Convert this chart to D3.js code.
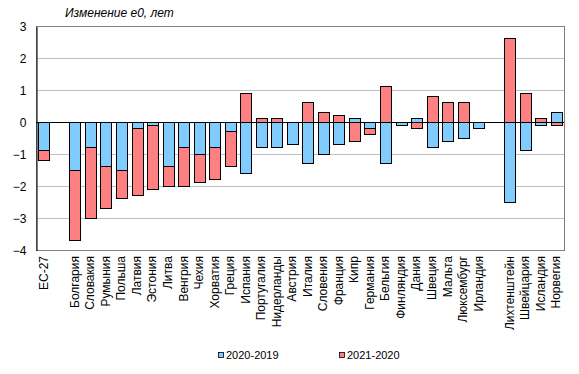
<!DOCTYPE html>
<html>
<head>
<meta charset="utf-8">
<script src="https://cdn.jsdelivr.net/npm/d3@7"></script>
<style>
  body { margin: 0; background: #fff; }
  svg { display: block; font-family: "Liberation Sans", Arial, sans-serif; }
</style>
</head>
<body>
<svg id="chart" width="579" height="374"></svg>
<script>
// categories ("" = empty gap slot)
const countries = ["ЕС-27", "", "Болгария", "Словакия", "Румыния", "Польша", "Латвия", "Эстония",
  "Литва", "Венгрия", "Чехия", "Хорватия", "Греция", "Испания", "Португалия", "Нидерланды",
  "Австрия", "Италия", "Словения", "Франция", "Кипр", "Германия", "Бельгия", "Финляндия",
  "Дания", "Швеция", "Мальта", "Люксембург", "Ирландия", "", "Лихтенштейн", "Швейцария",
  "Исландия", "Норвегия"];

// change 2020 vs 2019
const change2020 = [-0.88, 0, -1.5, -0.77, -1.37, -1.5, -0.19, -0.09,
  -1.37, -0.77, -1.0, -0.77, -0.28, -1.59, -0.77, -0.77,
  -0.69, -1.28, -1.0, -0.69, 0.13, -0.19, -1.28, -0.09,
  0.13, -0.78, -0.59, -0.5, -0.19, 0, -2.5, -0.87,
  -0.09, 0.31];

// change 2021 vs 2020
const change2021 = [-0.31, 0, -2.18, -2.23, -1.31, -0.87, -2.09, -2.0,
  -0.63, -1.23, -0.87, -1.01, -1.08, 0.91, 0.13, 0.13,
  0, 0.63, 0.31, 0.22, -0.59, -0.19, 1.12, 0,
  -0.19, 0.81, 0.63, 0.63, 0, 0, 2.63, 0.91,
  0.13, -0.09];

const seriesNames = ["2020-2019", "2021-2020"];
const seriesColors = ["#80ccff", "#ff8080"];
const yTicks = [-4, -3, -2, -1, 0, 1, 2, 3];

const svg = d3.select("#chart");
const margin = { left: 36, right: 15, top: 26, bottom: 124 };
const W = 579, H = 374;
const x0 = margin.left, x1 = W - margin.right;
const y0 = margin.top, y1 = H - margin.bottom;

const rows = countries.map((c, i) => ({ i: i, name: c, "2020-2019": change2020[i], "2021-2020": change2021[i] }));

const x = d3.scaleBand().domain(d3.range(countries.length)).range([x0, x1]).paddingInner(0.3).paddingOuter(0.15);
const y = d3.scaleLinear().domain([-4, 3]).range([y1, y0]);

// grid
svg.append("g").selectAll("line").data(yTicks.filter(t => t !== 0 && t !== -4 && t !== 3)).enter()
  .append("line")
  .attr("x1", x0).attr("x2", x1)
  .attr("y1", d => y(d) + 0.5).attr("y2", d => y(d) + 0.5)
  .attr("stroke", "#c0c0c0").attr("stroke-width", 1);

// frame
svg.append("rect")
  .attr("x", x0 + 0.5).attr("y", y0 + 0.5)
  .attr("width", x1 - x0).attr("height", y1 - y0)
  .attr("fill", "none").attr("stroke", "#808080");

// y axis
const yAxis = svg.append("g").attr("transform", `translate(${x0 + 0.5},0.5)`)
  .call(d3.axisLeft(y).tickValues(yTicks).tickSize(0).tickPadding(10).tickFormat(d3.format("d")));
yAxis.select(".domain").attr("stroke", "#000");
yAxis.selectAll("text").attr("font-size", 12).attr("fill", "#000")
  .attr("font-family", "Liberation Sans, Arial, sans-serif");

// stacked bars
const stack = d3.stack().keys(seriesNames).offset(d3.stackOffsetDiverging);
const layers = stack(rows);

svg.append("g").selectAll("g").data(layers).enter()
  .append("g")
  .attr("fill", (d, k) => seriesColors[k])
  .selectAll("rect").data(d => d.filter(p => p[1] - p[0] !== 0)).enter()
  .append("rect")
  .attr("x", d => Math.round(x(d.data.i)) + 0.5)
  .attr("width", Math.round(x.bandwidth()))
  .attr("y", d => Math.round(y(Math.max(d[0], d[1]))) + 0.5)
  .attr("height", d => Math.round(y(Math.min(d[0], d[1]))) - Math.round(y(Math.max(d[0], d[1]))))
  .attr("stroke", "#000").attr("stroke-width", 1);

// zero line
svg.append("line")
  .attr("x1", x0).attr("x2", x1)
  .attr("y1", Math.round(y(0)) + 0.5).attr("y2", Math.round(y(0)) + 0.5)
  .attr("stroke", "#000");

// category labels
svg.append("g").selectAll("text").data(rows.filter(r => r.name !== "")).enter()
  .append("text")
  .attr("transform", d => `translate(${x(d.i) + x.bandwidth() / 2 + 4},${y1 + 6}) rotate(-90)`)
  .attr("text-anchor", "end")
  .attr("font-size", 12)
  .text(d => d.name);

// title
svg.append("text")
  .attr("x", 65).attr("y", 17)
  .attr("font-size", 12).attr("font-style", "italic")
  .text("Изменение е0, лет");

// legend
const legendX = [218, 339];
const leg = svg.append("g").selectAll("g").data(seriesNames).enter()
  .append("g").attr("transform", (d, k) => `translate(${legendX[k]},352)`);
leg.append("rect").attr("x", 0.5).attr("y", 0.5).attr("width", 5).attr("height", 5)
  .attr("fill", (d, k) => seriesColors[k]).attr("stroke", "#000").attr("stroke-width", 0.8);
leg.append("text").attr("x", 8).attr("y", 7).attr("font-size", 11).text(d => d);
</script>
</body>
</html>
